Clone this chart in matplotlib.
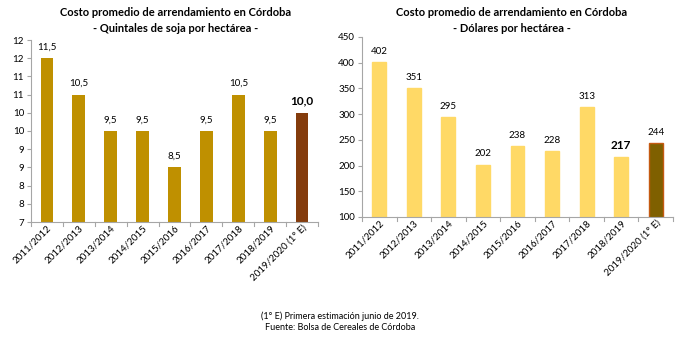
import numpy as np
import matplotlib.pyplot as plt

plt.rcParams['font.family'] = ['Lato', 'DejaVu Sans']

campanas = ['2011/2012', '2012/2013', '2013/2014', '2014/2015', '2015/2016',
            '2016/2017', '2017/2018', '2018/2019', '2019/2020 (1° E)']
quintales = [11.5, 10.5, 9.5, 9.5, 8.5, 9.5, 10.5, 9.5, 10.0]
dolares = [402, 351, 295, 202, 238, 228, 313, 217, 244]

W, H = 680, 340
fig = plt.figure(figsize=(W / 100, H / 100), dpi=100)


def px_axes(x0, y0, x1, y1):
    # pixel box (top-left origin) -> figure fraction
    return fig.add_axes([x0 / W, 1 - y1 / H, (x1 - x0) / W, (y1 - y0) / H])


def px_text(x, y, s, **kw):
    fig.text(x / W, 1 - y / H, s, ha='center', va='center', **kw)


def style(ax):
    for s in ['top', 'right']:
        ax.spines[s].set_visible(False)
    for s in ['left', 'bottom']:
        ax.spines[s].set_color('#a6a6a6')
        ax.spines[s].set_linewidth(0.8)
    ax.tick_params(axis='y', length=3, color='#a6a6a6', labelsize=7, pad=2)
    ax.tick_params(axis='x', length=0, labelsize=7, pad=1)
    # category separators on the x axis
    n = len(campanas)
    for b in np.arange(-0.5, n, 1.0):
        ax.plot([b, b], [0, -0.02], transform=ax.get_xaxis_transform(),
                color='#a6a6a6', lw=0.8, clip_on=False)
    ax.set_xlim(-0.5, n - 0.5)
    ax.set_xticks(range(n))
    ax.set_xticklabels(campanas, rotation=45, ha='right', rotation_mode='anchor')


x = np.arange(len(campanas))

# left: quintales de soja
ax1 = px_axes(31, 40, 318, 222)
cols1 = ['#bf9000'] * (len(x) - 1) + ['#843c0c']
ax1.bar(x, quintales, width=0.4, color=cols1)
ax1.set_ylim(7, 12)
yt = np.arange(7, 12.01, 0.5)
ax1.set_yticks(yt)
ax1.set_yticklabels([str(int(np.floor(v + 0.5))) for v in yt])
style(ax1)
for i, v in enumerate(quintales):
    last = i == len(x) - 1
    ax1.text(i, v + 0.18, f'{v:.1f}'.replace('.', ','), ha='center', va='bottom',
             fontsize=8.5 if last else 7, fontweight='bold' if last else 'normal')
px_text(176, 12, 'Costo promedio de arrendamiento en Córdoba', fontsize=8, fontweight='bold')
px_text(176, 28, '- Quintales de soja por hectárea -', fontsize=8, fontweight='bold')

# right: dolares por hectarea
ax2 = px_axes(362, 37, 673, 217)
cols2 = ['#ffd966'] * (len(x) - 1) + ['#7f6000']
edges2 = ['#ffd966'] * (len(x) - 1) + ['#c55a11']
ax2.bar(x, dolares, width=0.4, color=cols2, edgecolor=edges2, linewidth=1)
ax2.set_ylim(100, 450)
ax2.set_yticks(range(100, 451, 50))
style(ax2)
for i, v in enumerate(dolares):
    big = i == 7
    ax2.text(i, v + 12, str(v), ha='center', va='bottom',
             fontsize=8.5 if big else 7, fontweight='bold' if big else 'normal')
px_text(512, 13, 'Costo promedio de arrendamiento en Córdoba', fontsize=8, fontweight='bold')
px_text(512, 29, '- Dólares por hectárea -', fontsize=8, fontweight='bold')

px_text(340, 316, '(1° E) Primera estimación junio de 2019.', fontsize=6.5)
px_text(340, 328, 'Fuente: Bolsa de Cereales de Córdoba', fontsize=6.5)

fig.savefig('out.png', dpi=100)
